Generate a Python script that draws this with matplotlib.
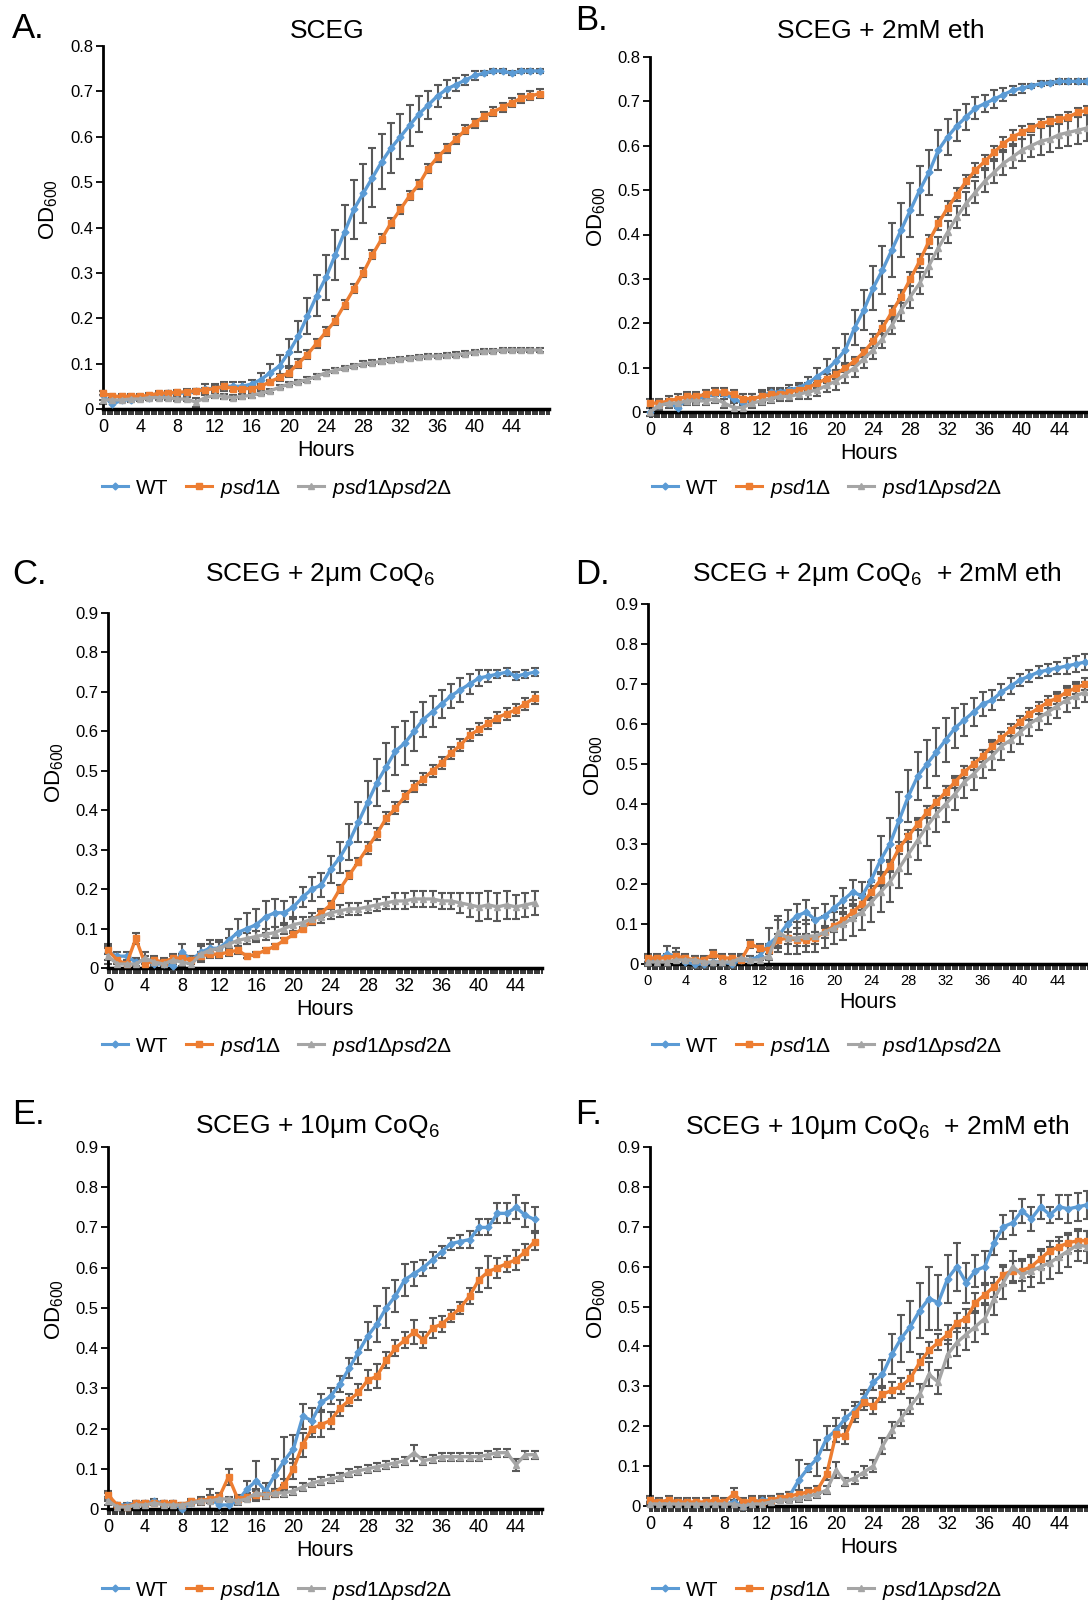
import matplotlib
matplotlib.use("Agg")
import matplotlib.pyplot as plt
from matplotlib.lines import Line2D
from matplotlib.ticker import MultipleLocator, FuncFormatter

plt.rcParams['font.family'] = ['Liberation Sans', 'DejaVu Sans']
plt.rcParams['mathtext.fontset'] = 'custom'
plt.rcParams['mathtext.rm'] = 'Liberation Sans'
plt.rcParams['mathtext.it'] = 'Liberation Sans:italic'

# time points (hours) read at 1 h steps
hours48 = list(range(48))
hours47 = list(range(47))

# ---- A. SCEG ----
a_wt = [0.03, 0.01, 0.02, 0.02, 0.025, 0.025, 0.03, 0.035, 0.035, 0.035, 0.04, 0.045,
        0.045, 0.05, 0.05, 0.05, 0.055, 0.065, 0.08, 0.095, 0.125, 0.16, 0.205, 0.25,
        0.29, 0.34, 0.39, 0.44, 0.475, 0.51, 0.545, 0.575, 0.6, 0.625, 0.65, 0.67,
        0.69, 0.705, 0.715, 0.725, 0.735, 0.74, 0.745, 0.745, 0.74, 0.745, 0.745, 0.745]
a_wt_err = [0.01, 0.01, 0.005, 0.005, 0.005, 0.005, 0.005, 0.005, 0.005, 0.005, 0.005, 0.01,
            0.01, 0.01, 0.01, 0.01, 0.01, 0.015, 0.02, 0.025, 0.03, 0.035, 0.04, 0.045,
            0.05, 0.055, 0.06, 0.065, 0.065, 0.065, 0.06, 0.055, 0.05, 0.045, 0.04, 0.03,
            0.025, 0.02, 0.015, 0.01, 0.01, 0.005, 0.005, 0.005, 0.005, 0.005, 0.005, 0.005]
a_ko1 = [0.035, 0.028, 0.028, 0.028, 0.028, 0.03, 0.035, 0.035, 0.037, 0.038, 0.04, 0.042,
         0.045, 0.05, 0.045, 0.045, 0.045, 0.05, 0.06, 0.07, 0.08, 0.1, 0.12, 0.145,
         0.17, 0.195, 0.23, 0.265, 0.3, 0.34, 0.375, 0.41, 0.44, 0.47, 0.495, 0.53,
         0.555, 0.575, 0.595, 0.615, 0.63, 0.645, 0.655, 0.665, 0.675, 0.685, 0.69, 0.695]
a_ko1_err = [0.005, 0.005, 0.005, 0.005, 0.005, 0.005, 0.005, 0.005, 0.005, 0.005, 0.005, 0.005,
             0.005, 0.005, 0.005, 0.005, 0.005, 0.005, 0.005, 0.008, 0.01, 0.01, 0.01, 0.01,
             0.01, 0.01, 0.01, 0.01, 0.01, 0.01, 0.01, 0.01, 0.01, 0.01, 0.01, 0.01,
             0.01, 0.01, 0.01, 0.01, 0.01, 0.01, 0.01, 0.01, 0.01, 0.01, 0.01, 0.01]
a_ko2 = [0.02, 0.02, 0.02, 0.022, 0.022, 0.025, 0.025, 0.025, 0.022, 0.022, 0.015, 0.025,
         0.03, 0.028, 0.025, 0.028, 0.03, 0.035, 0.04, 0.048, 0.055, 0.06, 0.065, 0.072,
         0.08, 0.085, 0.09, 0.095, 0.1, 0.102, 0.105, 0.108, 0.11, 0.112, 0.115, 0.116,
         0.117, 0.118, 0.12, 0.122, 0.125, 0.127, 0.128, 0.13, 0.13, 0.13, 0.13, 0.13]
a_ko2_err = [0.01, 0.005, 0.005, 0.005, 0.005, 0.005, 0.005, 0.005, 0.005, 0.005, 0.01, 0.005,
             0.005, 0.005, 0.005, 0.005, 0.005, 0.005, 0.005, 0.005, 0.005, 0.005, 0.005, 0.005,
             0.005, 0.005, 0.005, 0.005, 0.005, 0.005, 0.005, 0.005, 0.005, 0.005, 0.005, 0.005,
             0.005, 0.005, 0.005, 0.005, 0.005, 0.005, 0.005, 0.005, 0.005, 0.005, 0.005, 0.005]

# ---- B. SCEG + 2mM eth ----
b_wt = [0.0, 0.015, 0.02, 0.01, 0.03, 0.03, 0.035, 0.04, 0.04, 0.03, 0.02, 0.03,
        0.035, 0.045, 0.045, 0.05, 0.055, 0.065, 0.08, 0.095, 0.115, 0.14, 0.19, 0.23,
        0.28, 0.32, 0.365, 0.41, 0.455, 0.5, 0.54, 0.59, 0.62, 0.645, 0.665, 0.685,
        0.695, 0.705, 0.715, 0.725, 0.73, 0.735, 0.74, 0.742, 0.745, 0.745, 0.745, 0.745]
b_wt_err = [0.01, 0.01, 0.01, 0.01, 0.01, 0.01, 0.005, 0.005, 0.005, 0.005, 0.005, 0.01,
            0.015, 0.01, 0.01, 0.01, 0.01, 0.015, 0.02, 0.025, 0.03, 0.035, 0.04, 0.045,
            0.05, 0.055, 0.06, 0.06, 0.06, 0.055, 0.05, 0.045, 0.04, 0.035, 0.03, 0.025,
            0.02, 0.02, 0.015, 0.01, 0.01, 0.005, 0.005, 0.005, 0.005, 0.005, 0.005, 0.005]
b_ko1 = [0.02, 0.02, 0.025, 0.03, 0.035, 0.035, 0.04, 0.045, 0.045, 0.04, 0.03, 0.03,
         0.035, 0.04, 0.04, 0.045, 0.05, 0.055, 0.065, 0.075, 0.085, 0.1, 0.115, 0.135,
         0.16, 0.19, 0.225, 0.26, 0.3, 0.34, 0.385, 0.425, 0.46, 0.49, 0.52, 0.545,
         0.565, 0.585, 0.605, 0.62, 0.63, 0.64, 0.65, 0.655, 0.66, 0.665, 0.675, 0.68]
b_ko1_err = [0.01, 0.01, 0.01, 0.01, 0.01, 0.01, 0.01, 0.01, 0.01, 0.01, 0.01, 0.01,
             0.01, 0.01, 0.01, 0.01, 0.01, 0.01, 0.01, 0.01, 0.01, 0.01, 0.01, 0.01,
             0.015, 0.015, 0.015, 0.015, 0.015, 0.015, 0.015, 0.015, 0.015, 0.015, 0.015, 0.015,
             0.015, 0.015, 0.015, 0.015, 0.015, 0.01, 0.01, 0.01, 0.01, 0.01, 0.01, 0.01]
b_ko2 = [0.0, 0.015, 0.02, 0.02, 0.025, 0.025, 0.025, 0.03, 0.02, 0.01, 0.01, 0.02,
         0.025, 0.03, 0.035, 0.035, 0.04, 0.045, 0.05, 0.06, 0.07, 0.085, 0.1, 0.12,
         0.14, 0.165, 0.195, 0.23, 0.26, 0.29, 0.33, 0.37, 0.405, 0.44, 0.47, 0.495,
         0.52, 0.54, 0.56, 0.575, 0.59, 0.6, 0.61, 0.615, 0.625, 0.63, 0.635, 0.64]
b_ko2_err = [0.01, 0.01, 0.01, 0.01, 0.01, 0.01, 0.01, 0.01, 0.01, 0.01, 0.01, 0.01,
             0.01, 0.01, 0.01, 0.01, 0.01, 0.015, 0.015, 0.015, 0.02, 0.02, 0.02, 0.02,
             0.02, 0.02, 0.02, 0.025, 0.025, 0.025, 0.025, 0.025, 0.025, 0.025, 0.025, 0.025,
             0.025, 0.025, 0.025, 0.025, 0.025, 0.025, 0.03, 0.03, 0.03, 0.03, 0.03, 0.03]

# ---- C. SCEG + 2um CoQ6 ----
c_wt = [0.04, 0.03, 0.03, 0.015, 0.02, 0.01, 0.01, 0.005, 0.04, 0.02, 0.04, 0.05,
        0.05, 0.07, 0.09, 0.1, 0.11, 0.13, 0.14, 0.14, 0.155, 0.18, 0.2, 0.21,
        0.25, 0.28, 0.32, 0.37, 0.42, 0.47, 0.51, 0.55, 0.57, 0.6, 0.63, 0.65,
        0.67, 0.69, 0.705, 0.72, 0.735, 0.74, 0.745, 0.75, 0.74, 0.745, 0.75]
c_wt_err = [0.02, 0.01, 0.01, 0.01, 0.01, 0.01, 0.01, 0.01, 0.02, 0.01, 0.02, 0.02,
            0.02, 0.03, 0.035, 0.04, 0.04, 0.04, 0.035, 0.03, 0.025, 0.025, 0.03, 0.03,
            0.035, 0.04, 0.045, 0.05, 0.055, 0.06, 0.06, 0.06, 0.055, 0.05, 0.045, 0.04,
            0.035, 0.03, 0.03, 0.025, 0.02, 0.015, 0.01, 0.01, 0.01, 0.01, 0.01]
c_ko1 = [0.045, 0.02, 0.01, 0.075, 0.01, 0.02, 0.015, 0.025, 0.025, 0.02, 0.03, 0.035,
         0.035, 0.04, 0.045, 0.03, 0.035, 0.045, 0.055, 0.07, 0.085, 0.1, 0.12, 0.14,
         0.16, 0.2, 0.235, 0.27, 0.305, 0.34, 0.38, 0.405, 0.435, 0.46, 0.48, 0.5,
         0.52, 0.545, 0.565, 0.59, 0.605, 0.62, 0.635, 0.645, 0.655, 0.67, 0.685]
c_ko1_err = [0.01, 0.01, 0.01, 0.015, 0.01, 0.01, 0.01, 0.01, 0.01, 0.01, 0.01, 0.01,
             0.01, 0.01, 0.01, 0.005, 0.005, 0.005, 0.005, 0.005, 0.005, 0.005, 0.01, 0.01,
             0.01, 0.01, 0.01, 0.01, 0.015, 0.015, 0.015, 0.015, 0.015, 0.015, 0.015, 0.015,
             0.015, 0.015, 0.015, 0.015, 0.015, 0.015, 0.015, 0.015, 0.015, 0.015, 0.015]
c_ko2 = [0.03, 0.01, 0.01, 0.01, 0.025, 0.015, 0.01, 0.02, 0.015, 0.01, 0.035, 0.045,
         0.05, 0.06, 0.07, 0.075, 0.08, 0.085, 0.09, 0.1, 0.11, 0.115, 0.125, 0.13,
         0.14, 0.145, 0.15, 0.15, 0.155, 0.16, 0.165, 0.17, 0.17, 0.175, 0.175, 0.175,
         0.17, 0.17, 0.165, 0.16, 0.155, 0.16, 0.155, 0.16, 0.155, 0.16, 0.165]
c_ko2_err = [0.02, 0.01, 0.01, 0.01, 0.015, 0.01, 0.01, 0.01, 0.01, 0.01, 0.02, 0.015,
             0.015, 0.015, 0.015, 0.015, 0.015, 0.015, 0.015, 0.015, 0.015, 0.015, 0.015, 0.015,
             0.015, 0.015, 0.015, 0.015, 0.015, 0.015, 0.015, 0.02, 0.02, 0.02, 0.02, 0.02,
             0.02, 0.02, 0.025, 0.03, 0.035, 0.035, 0.035, 0.035, 0.03, 0.03, 0.03]

# ---- D. SCEG + 2um CoQ6 + 2mM eth ----
d_wt = [0.01, 0.01, 0.025, 0.02, 0.005, 0.0, 0.0, 0.005, 0.005, 0.0, 0.01, 0.01,
        0.02, 0.05, 0.07, 0.1, 0.12, 0.13, 0.11, 0.12, 0.14, 0.16, 0.18, 0.17,
        0.21, 0.26, 0.3, 0.36, 0.42, 0.47, 0.5, 0.53, 0.56, 0.59, 0.61, 0.63,
        0.65, 0.66, 0.68, 0.695, 0.71, 0.72, 0.73, 0.735, 0.74, 0.745, 0.75, 0.755]
d_wt_err = [0.01, 0.01, 0.02, 0.02, 0.01, 0.01, 0.01, 0.01, 0.01, 0.01, 0.01, 0.01,
            0.01, 0.04, 0.04, 0.035, 0.03, 0.03, 0.03, 0.03, 0.03, 0.03, 0.03, 0.035,
            0.05, 0.06, 0.065, 0.07, 0.065, 0.06, 0.06, 0.06, 0.055, 0.05, 0.04, 0.035,
            0.03, 0.025, 0.02, 0.02, 0.015, 0.015, 0.015, 0.015, 0.015, 0.02, 0.02, 0.02]
d_ko1 = [0.015, 0.015, 0.015, 0.02, 0.015, 0.01, 0.01, 0.025, 0.015, 0.015, 0.01, 0.05,
         0.04, 0.035, 0.06, 0.065, 0.06, 0.06, 0.065, 0.08, 0.095, 0.11, 0.13, 0.15,
         0.18, 0.21, 0.245, 0.29, 0.32, 0.35, 0.38, 0.405, 0.43, 0.455, 0.48, 0.5,
         0.52, 0.545, 0.565, 0.585, 0.605, 0.625, 0.64, 0.655, 0.665, 0.68, 0.69, 0.7]
d_ko1_err = [0.01, 0.01, 0.01, 0.01, 0.01, 0.01, 0.01, 0.01, 0.01, 0.01, 0.01, 0.01,
             0.01, 0.01, 0.015, 0.015, 0.015, 0.015, 0.015, 0.015, 0.015, 0.015, 0.015, 0.015,
             0.015, 0.015, 0.015, 0.015, 0.015, 0.015, 0.015, 0.015, 0.015, 0.015, 0.015, 0.015,
             0.015, 0.015, 0.015, 0.015, 0.015, 0.015, 0.015, 0.015, 0.015, 0.015, 0.015, 0.015]
d_ko2 = [0.005, 0.005, 0.005, 0.01, 0.01, 0.01, 0.005, 0.005, 0.005, 0.005, 0.015, 0.01,
         0.01, 0.02, 0.08, 0.065, 0.065, 0.07, 0.07, 0.08, 0.09, 0.1, 0.115, 0.13,
         0.155, 0.18, 0.205, 0.24, 0.275, 0.31, 0.345, 0.375, 0.4, 0.425, 0.455, 0.475,
         0.5, 0.52, 0.545, 0.56, 0.58, 0.6, 0.615, 0.63, 0.645, 0.66, 0.67, 0.68]
d_ko2_err = [0.01, 0.01, 0.01, 0.01, 0.01, 0.01, 0.01, 0.01, 0.01, 0.01, 0.01, 0.01,
             0.01, 0.03, 0.04, 0.04, 0.04, 0.04, 0.04, 0.04, 0.04, 0.04, 0.045, 0.045,
             0.05, 0.05, 0.05, 0.05, 0.05, 0.05, 0.05, 0.045, 0.045, 0.04, 0.04, 0.04,
             0.035, 0.035, 0.035, 0.03, 0.03, 0.03, 0.03, 0.03, 0.03, 0.03, 0.03, 0.025]

# ---- E. SCEG + 10um CoQ6 ----
e_wt = [0.03, 0.01, 0.01, 0.015, 0.015, 0.02, 0.015, 0.015, 0.0, 0.015, 0.02, 0.025,
        0.01, 0.01, 0.02, 0.05, 0.07, 0.045, 0.085, 0.12, 0.15, 0.23, 0.22, 0.265,
        0.28, 0.31, 0.35, 0.39, 0.43, 0.46, 0.5, 0.53, 0.57, 0.585, 0.6, 0.62,
        0.64, 0.66, 0.665, 0.67, 0.7, 0.7, 0.735, 0.735, 0.75, 0.73, 0.72]
e_wt_err = [0.01, 0.005, 0.005, 0.005, 0.005, 0.005, 0.005, 0.005, 0.005, 0.005, 0.01, 0.025,
            0.02, 0.01, 0.01, 0.02, 0.05, 0.02, 0.04, 0.06, 0.035, 0.03, 0.03, 0.02,
            0.02, 0.02, 0.025, 0.03, 0.035, 0.045, 0.05, 0.04, 0.04, 0.03, 0.02, 0.02,
            0.015, 0.015, 0.015, 0.02, 0.02, 0.02, 0.025, 0.025, 0.03, 0.03, 0.03]
e_ko1 = [0.035, 0.01, 0.005, 0.015, 0.015, 0.015, 0.015, 0.015, 0.01, 0.02, 0.02, 0.025,
         0.03, 0.08, 0.025, 0.03, 0.035, 0.035, 0.04, 0.06, 0.1, 0.16, 0.2, 0.21,
         0.22, 0.25, 0.27, 0.29, 0.32, 0.33, 0.37, 0.4, 0.42, 0.44, 0.42, 0.45,
         0.46, 0.48, 0.5, 0.53, 0.57, 0.59, 0.6, 0.61, 0.62, 0.64, 0.665]
e_ko1_err = [0.01, 0.005, 0.005, 0.005, 0.005, 0.005, 0.005, 0.005, 0.005, 0.005, 0.005, 0.01,
             0.01, 0.02, 0.01, 0.01, 0.01, 0.01, 0.01, 0.015, 0.025, 0.03, 0.02, 0.03,
             0.02, 0.02, 0.015, 0.02, 0.025, 0.03, 0.02, 0.02, 0.02, 0.03, 0.02, 0.025,
             0.02, 0.015, 0.015, 0.02, 0.03, 0.04, 0.025, 0.02, 0.025, 0.02, 0.02]
e_ko2 = [0.02, 0.005, 0.005, 0.01, 0.01, 0.015, 0.01, 0.01, 0.01, 0.015, 0.02, 0.02,
         0.025, 0.025, 0.02, 0.025, 0.04, 0.035, 0.04, 0.04, 0.045, 0.055, 0.065, 0.07,
         0.075, 0.08, 0.09, 0.095, 0.1, 0.105, 0.11, 0.115, 0.12, 0.14, 0.12, 0.125,
         0.13, 0.13, 0.13, 0.13, 0.13, 0.135, 0.14, 0.14, 0.11, 0.135, 0.135]
e_ko2_err = [0.01, 0.005, 0.005, 0.005, 0.005, 0.005, 0.005, 0.005, 0.005, 0.005, 0.005, 0.005,
             0.005, 0.005, 0.005, 0.005, 0.01, 0.005, 0.01, 0.01, 0.01, 0.01, 0.01, 0.01,
             0.01, 0.01, 0.01, 0.01, 0.01, 0.01, 0.01, 0.01, 0.01, 0.02, 0.01, 0.01,
             0.01, 0.01, 0.01, 0.01, 0.01, 0.01, 0.01, 0.01, 0.015, 0.01, 0.01]

# ---- F. SCEG + 10um CoQ6 + 2mM eth ----
f_wt = [0.015, 0.01, 0.01, 0.01, 0.01, 0.005, 0.005, 0.01, 0.005, 0.01, 0.0, 0.01,
        0.015, 0.015, 0.02, 0.025, 0.065, 0.095, 0.12, 0.17, 0.19, 0.22, 0.24, 0.27,
        0.31, 0.33, 0.38, 0.42, 0.45, 0.49, 0.52, 0.51, 0.57, 0.6, 0.56, 0.59,
        0.6, 0.66, 0.7, 0.71, 0.74, 0.72, 0.75, 0.73, 0.75, 0.745, 0.75, 0.755]
f_wt_err = [0.005, 0.005, 0.005, 0.005, 0.005, 0.005, 0.005, 0.005, 0.005, 0.005, 0.01, 0.01,
            0.01, 0.01, 0.01, 0.01, 0.05, 0.01, 0.045, 0.03, 0.03, 0.02, 0.02, 0.02,
            0.02, 0.035, 0.05, 0.06, 0.065, 0.07, 0.08, 0.07, 0.06, 0.06, 0.05, 0.04,
            0.04, 0.03, 0.03, 0.03, 0.03, 0.03, 0.03, 0.02, 0.03, 0.035, 0.035, 0.035]
f_ko1 = [0.015, 0.01, 0.015, 0.01, 0.01, 0.01, 0.01, 0.015, 0.01, 0.03, 0.01, 0.015,
         0.01, 0.015, 0.02, 0.025, 0.03, 0.035, 0.04, 0.08, 0.18, 0.175, 0.23, 0.26,
         0.25, 0.28, 0.29, 0.3, 0.32, 0.36, 0.39, 0.41, 0.43, 0.46, 0.47, 0.51,
         0.53, 0.55, 0.58, 0.59, 0.59, 0.6, 0.62, 0.64, 0.65, 0.66, 0.665, 0.665]
f_ko1_err = [0.01, 0.01, 0.01, 0.01, 0.01, 0.01, 0.01, 0.01, 0.01, 0.015, 0.01, 0.01,
             0.01, 0.01, 0.01, 0.01, 0.01, 0.01, 0.01, 0.015, 0.02, 0.02, 0.02, 0.02,
             0.02, 0.02, 0.02, 0.02, 0.02, 0.02, 0.02, 0.02, 0.025, 0.025, 0.025, 0.025,
             0.025, 0.025, 0.025, 0.025, 0.025, 0.025, 0.025, 0.025, 0.025, 0.025, 0.025, 0.025]
f_ko2 = [0.005, 0.005, 0.005, 0.005, 0.005, 0.005, 0.005, 0.005, 0.005, 0.005, 0.0, 0.005,
         0.005, 0.01, 0.015, 0.015, 0.02, 0.025, 0.03, 0.04, 0.09, 0.06, 0.07, 0.085,
         0.1, 0.15, 0.19, 0.22, 0.25, 0.28, 0.33, 0.31, 0.38, 0.41, 0.43, 0.45,
         0.47, 0.52, 0.56, 0.6, 0.58, 0.59, 0.6, 0.61, 0.625, 0.64, 0.655, 0.65]
f_ko2_err = [0.005, 0.005, 0.005, 0.005, 0.005, 0.005, 0.005, 0.005, 0.005, 0.005, 0.005, 0.005,
             0.005, 0.005, 0.005, 0.005, 0.01, 0.01, 0.01, 0.01, 0.02, 0.01, 0.015, 0.015,
             0.015, 0.02, 0.02, 0.02, 0.02, 0.025, 0.03, 0.03, 0.035, 0.035, 0.04, 0.04,
             0.04, 0.04, 0.04, 0.04, 0.04, 0.04, 0.04, 0.04, 0.04, 0.04, 0.04, 0.04]

# psd names in italics, the delta upright
labels = ["WT", r"$\mathit{psd1}$Δ", r"$\mathit{psd1}$Δ$\mathit{psd2}$Δ"]
colors = ["#5B9BD5", "#ED7D31", "#A5A5A5"]
markers = ["D", "s", "^"]
msizes = [3.5, 4.0, 4.5]
err_color = "#595959"

W, H = 1088, 1602


def rect(left, right, bottom, top):
    # pixel box -> figure fraction
    return [left / W, 1 - bottom / H, (right - left) / W, (bottom - top) / H]


def draw(fig, box, hours, series, ymax, xmax, letter, letter_xy, title, title_xy,
         legend_xy, xtick_size=13):
    ax = fig.add_axes(rect(*box))
    for (y, err), c, m, ms in zip(series, colors, markers, msizes):
        ax.errorbar(hours, y, yerr=err, fmt="none", ecolor=err_color, elinewidth=1.5,
                    capsize=3, capthick=1.5, zorder=2, clip_on=False)
        ax.plot(hours, y, color=c, marker=m, markersize=ms, lw=2.4, zorder=3, clip_on=False)

    ax.set_xlim(0, xmax)
    ax.set_ylim(0, ymax)
    ax.spines["top"].set_visible(False)
    ax.spines["right"].set_visible(False)
    ax.spines["left"].set_linewidth(2)
    ax.spines["bottom"].set_linewidth(2.5)
    ax.xaxis.set_minor_locator(MultipleLocator(0.25))
    ax.yaxis.set_major_locator(MultipleLocator(0.1))
    ax.yaxis.set_major_formatter(FuncFormatter(lambda v, p: "0" if abs(v) < 1e-9 else "%.1f" % v))
    ax.set_xticks([t for t in range(0, 45, 4)])
    ax.tick_params(axis="x", which="both", direction="out", length=4, width=1.1,
                   labelsize=xtick_size, pad=3)
    ax.tick_params(axis="y", direction="out", length=5, width=1.3, labelsize=12, pad=2)
    ax.set_xlabel("Hours", fontsize=15.5, labelpad=3)
    ax.set_ylabel(r"OD$_{600}$", fontsize=16)
    ax.yaxis.set_label_coords(-0.097, 0.55)

    fig.text(letter_xy[0] / W, 1 - letter_xy[1] / H, letter, fontsize=25,
             ha="left", va="center")
    fig.text(title_xy[0] / W, 1 - title_xy[1] / H, title, fontsize=19,
             ha="center", va="center")

    handles = [Line2D([], [], color=c, marker=m, markersize=ms, lw=2.2)
               for c, m, ms in zip(colors, markers, msizes)]
    fig.legend(handles, labels, loc="center left",
               bbox_to_anchor=(legend_xy[0] / W, 1 - legend_xy[1] / H),
               ncol=3, frameon=False, fontsize=15, handlelength=1.25,
               handletextpad=0.4, columnspacing=0.8, borderaxespad=0, borderpad=0)
    return ax


fig = plt.figure(figsize=(W / 100, H / 100), dpi=100)

draw(fig, (103, 549, 409, 46), hours48,
     [(a_wt, a_wt_err), (a_ko1, a_ko1_err), (a_ko2, a_ko2_err)],
     0.8, 48.0, "A.", (12, 28), "SCEG", (327, 31), (102, 488))
draw(fig, (650, 1088, 412, 57), hours48,
     [(b_wt, b_wt_err), (b_ko1, b_ko1_err), (b_ko2, b_ko2_err)],
     0.8, 47.1, "B.", (575, 21), "SCEG + 2mM eth", (881, 31), (652, 488))
draw(fig, (108, 542, 968, 613), hours47,
     [(c_wt, c_wt_err), (c_ko1, c_ko1_err), (c_ko2, c_ko2_err)],
     0.9, 46.8, "C.", (12, 574), "SCEG + 2μm CoQ$_6$", (320, 574), (102, 1046))
draw(fig, (648, 1088, 964, 604), hours48,
     [(d_wt, d_wt_err), (d_ko1, d_ko1_err), (d_ko2, d_ko2_err)],
     0.9, 47.3, "D.", (575, 574), "SCEG + 2μm CoQ$_6$  + 2mM eth", (877, 574),
     (652, 1046), xtick_size=10.5)
draw(fig, (108, 542, 1509, 1147), hours47,
     [(e_wt, e_wt_err), (e_ko1, e_ko1_err), (e_ko2, e_ko2_err)],
     0.9, 46.8, "E.", (12, 1114), "SCEG + 10μm CoQ$_6$", (317, 1127), (102, 1590))
draw(fig, (650, 1088, 1506, 1147), hours48,
     [(f_wt, f_wt_err), (f_ko1, f_ko1_err), (f_ko2, f_ko2_err)],
     0.9, 47.1, "F.", (575, 1114), "SCEG + 10μm CoQ$_6$  + 2mM eth", (877, 1127),
     (652, 1590))

fig.savefig("out.png", dpi=100)
